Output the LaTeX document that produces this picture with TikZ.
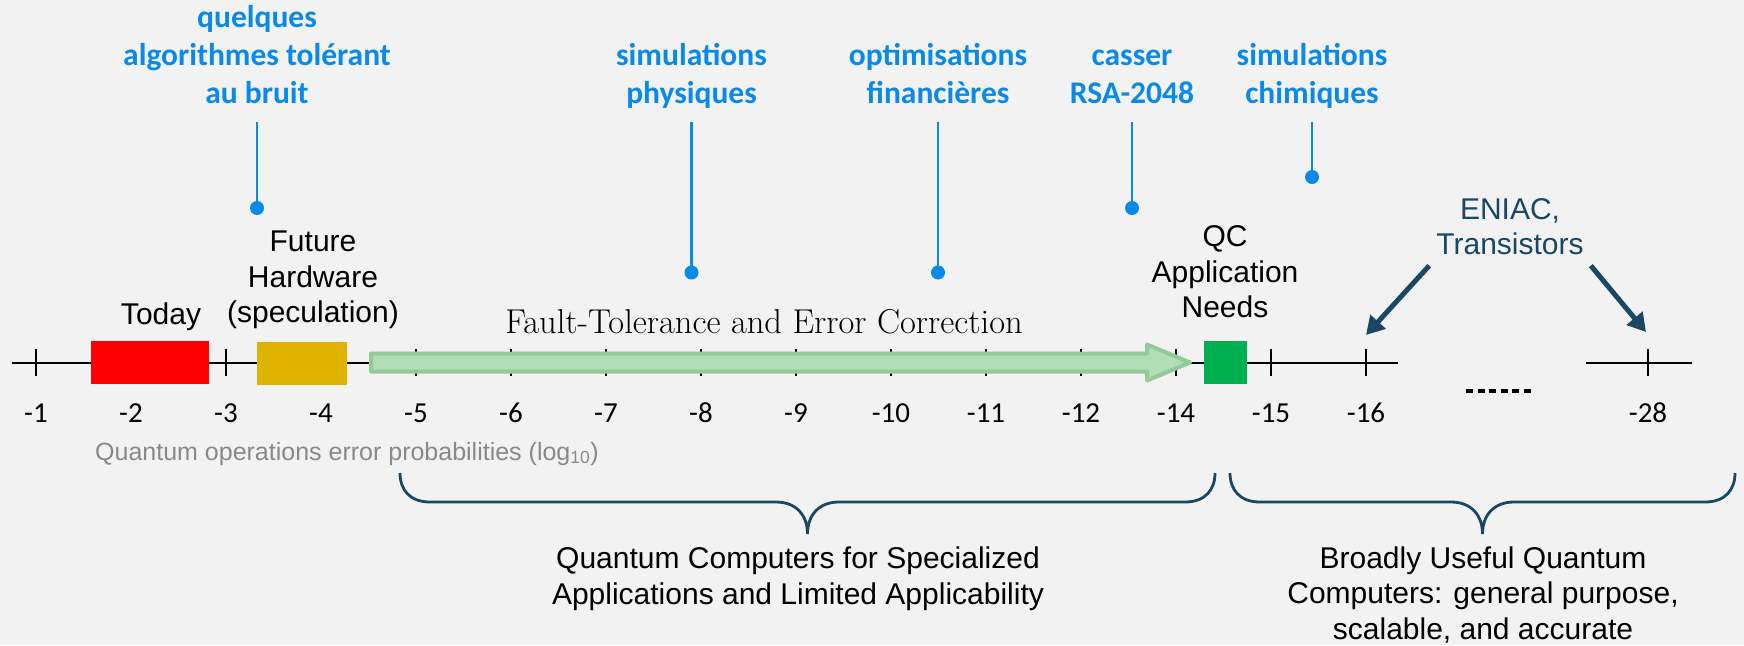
\documentclass[tikz,border=0pt]{standalone}
\usepackage{fontspec}
\newfontfamily\arialfont{Liberation Sans}
\newfontfamily\calfont{Carlito}
\usetikzlibrary{arrows.meta}

\definecolor{bggray}{RGB}{242,242,242}
\definecolor{qblue}{RGB}{10,138,232}
\definecolor{qteal}{RGB}{26,72,100}
\definecolor{ftfill}{RGB}{179,221,181}
\definecolor{ftdraw}{RGB}{147,202,152}
\definecolor{todayred}{RGB}{255,0,0}
\definecolor{futyellow}{RGB}{224,178,0}
\definecolor{qcgreen}{RGB}{0,176,80}
\definecolor{axgray}{RGB}{137,137,137}

\tikzset{
  appl/.style={font={\calfont\bfseries\fontsize{31.5}{38}\selectfont}, text=qblue, align=center, anchor=south, inner sep=0pt},
  appdot/.style={circle, fill=qblue, minimum size=14pt, inner sep=0pt},
  stem/.style={draw=qblue, line width=2.5pt, shorten <=6.6pt},
  lbl/.style={font={\arialfont\fontsize{30}{35.5}\selectfont}, align=center, anchor=south, inner sep=0pt},
  hwbox/.style={rectangle, minimum height=43pt, inner sep=0pt},
  tick/.style={line width=2pt},
  ticklbl/.style={font={\calfont\fontsize{29}{35}\selectfont}, anchor=base, inner sep=0pt},
  brace/.style={draw=qteal, line width=2.8pt},
  eniacarr/.style={draw=qteal, line width=5pt, -{Triangle[length=18pt,width=20pt]}},
}

\begin{document}
\begin{tikzpicture}[x=1pt, y=-1pt]
    % Background
    \fill[bggray] (0,0) rectangle (1744,645);
    \useasboundingbox (0,0) rectangle (1744,645);

    % Axis
    \draw[tick] (12,362.5) -- (1398,362.5);
    \draw[tick] (1586,362.5) -- (1692,362.5);
    \foreach \k in {0,...,14}
        \draw[tick] (36+95*\k,349) -- (36+95*\k,376);
    \draw[tick] (1648,349) -- (1648,376);
    \foreach \v [count=\k from 0] in {-1,-2,-3,-4,-5,-6,-7,-8,-9,-10,-11,-12,-14,-15,-16}
        \node[ticklbl] at (36+95*\k,422) {\v};
    \node[ticklbl] at (1648,422) {-28};
    \draw[line width=4.5pt, dash pattern=on 7pt off 4.5pt] (1466,391) -- (1531,391);

    % Axis caption
    \node[font={\arialfont\fontsize{25}{30}\selectfont}, text=axgray, anchor=base west, inner sep=0pt] (axlbl) at (95,460)
        {Quantum operations error probabilities (log\textsubscript{10})};

    % Fault-tolerance arrow
    \filldraw[fill=ftfill, draw=ftdraw, line width=4pt, line join=round]
        (371,353.5) -- (1147,353.5) -- (1147,344.5) -- (1190,362.5) -- (1147,380.5) -- (1147,371.5) -- (371,371.5) -- cycle;
    \node[font={\fontsize{34.5}{40}\selectfont}, anchor=base, inner sep=0pt] (ftec) at (764,333) {Fault-Tolerance and Error Correction};

    % Hardware boxes
    \node[hwbox, fill=todayred, minimum width=118pt] (today) at (150,362.5) {};
    \node[hwbox, fill=futyellow, minimum width=90pt] (future) at (302,363.5) {};
    \node[hwbox, fill=qcgreen, minimum width=43pt] (qcneeds) at (1225.5,362) {};
    \node[lbl] (todaylbl) at (161,335.65) {Today\strut};
    \node[lbl] (futurelbl) at (313,333.65) {Future\\Hardware\\(speculation)\strut};
    \node[lbl] (qclbl) at (1225,328.65) {QC\\Application\\Needs\strut};

    % ENIAC arrows
    \node[lbl, text=qteal, inner xsep=7pt] (eniac) at (1510,265.65) {ENIAC,\\Transistors\strut};
    \coordinate (arr16) at (1366,335);
    \coordinate (arr28) at (1646,332);
    \draw[eniacarr] (eniac.south west) -- (arr16);
    \draw[eniacarr] (eniac.south east) -- (arr28);

    % Applications
    \node[appl] (noisy) at (257,115.4) {quelques\\algorithmes tolérant\\au bruit\strut};
    \node[appl] (physsim) at (691.5,115.4) {simulations\\physiques\strut};
    \node[appl] (finopt) at (938,115.4) {optimisations\\financières\strut};
    \node[appl] (rsa) at (1132,115.4) {casser\\RSA-2048\strut};
    \node[appl] (chemsim) at (1312,115.4) {simulations\\chimiques\strut};
    \node[appdot] (noisydot) at (257,208) {};
    \node[appdot] (physdot) at (691.5,272.5) {};
    \node[appdot] (findot) at (938,272.5) {};
    \node[appdot] (rsadot) at (1132,208) {};
    \node[appdot] (chemdot) at (1312,177) {};
    \draw[stem] (noisy.south) -- (noisydot.center);
    \draw[stem] (physsim.south) -- (physdot.center);
    \draw[stem] (finopt.south) -- (findot.center);
    \draw[stem] (rsa.south) -- (rsadot.center);
    \draw[stem] (chemsim.south) -- (chemdot.center);

    % Braces
    \draw[brace] (400,473) .. controls (400,490) and (410,502) .. (430,502) -- (776,502)
        .. controls (796,502) and (807.5,515) .. (807.5,534)
        .. controls (807.5,515) and (819,502) .. (839,502) -- (1185,502)
        .. controls (1205,502) and (1215,490) .. (1215,473);
    \draw[brace] (1230,473) .. controls (1230,490) and (1240,502) .. (1260,502) -- (1451,502)
        .. controls (1471,502) and (1482.5,515) .. (1482.5,534)
        .. controls (1482.5,515) and (1494,502) .. (1514,502) -- (1705,502)
        .. controls (1725,502) and (1735,490) .. (1735,473);
    \node[lbl] (special) at (798,615) {Quantum Computers for Specialized\\Applications and Limited Applicability\strut};
    \node[lbl] (broad) at (1483,650) {Broadly Useful Quantum\\Computers: general purpose,\\scalable, and accurate\strut};
\end{tikzpicture}
\end{document}
